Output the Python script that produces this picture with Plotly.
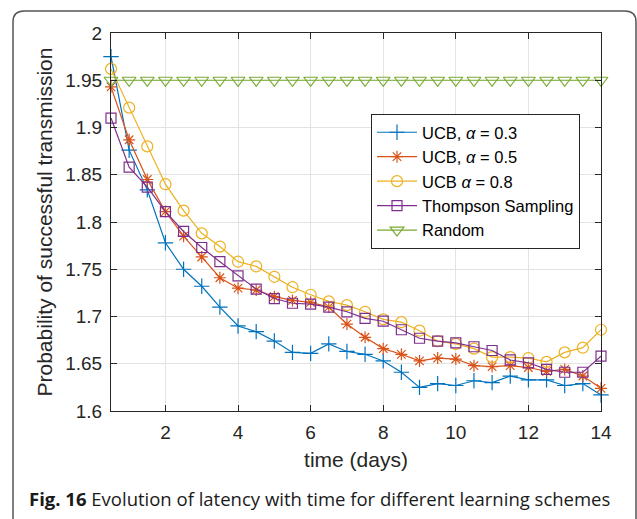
import plotly.graph_objects as go

# Time axis (days) and the probability curves for each scheme
days = [0.5, 1.0, 1.5, 2.0, 2.5, 3.0, 3.5, 4.0, 4.5, 5.0, 5.5, 6.0, 6.5, 7.0,
        7.5, 8.0, 8.5, 9.0, 9.5, 10.0, 10.5, 11.0, 11.5, 12.0, 12.5, 13.0, 13.5, 14.0]

ucb_03 = [1.975, 1.876, 1.834, 1.778, 1.750, 1.732, 1.710, 1.690, 1.684, 1.674,
          1.662, 1.661, 1.671, 1.663, 1.660, 1.653, 1.641, 1.625, 1.629, 1.627,
          1.632, 1.630, 1.637, 1.633, 1.633, 1.627, 1.629, 1.617]

ucb_05 = [1.943, 1.887, 1.845, 1.811, 1.785, 1.763, 1.741, 1.730, 1.728, 1.721,
          1.717, 1.715, 1.710, 1.692, 1.678, 1.666, 1.660, 1.653, 1.656, 1.655,
          1.648, 1.647, 1.648, 1.646, 1.642, 1.644, 1.637, 1.624]

ucb_08 = [1.962, 1.921, 1.880, 1.840, 1.812, 1.788, 1.774, 1.758, 1.753, 1.742,
          1.731, 1.723, 1.716, 1.712, 1.705, 1.697, 1.694, 1.685, 1.674, 1.671,
          1.666, 1.657, 1.657, 1.656, 1.652, 1.662, 1.667, 1.686]

thompson = [1.910, 1.858, 1.837, 1.811, 1.790, 1.773, 1.758, 1.743, 1.729, 1.719,
            1.714, 1.713, 1.710, 1.705, 1.698, 1.695, 1.686, 1.677, 1.674, 1.672,
            1.668, 1.664, 1.654, 1.651, 1.644, 1.641, 1.641, 1.658]

random_sel = [1.95] * len(days)

x_ticks = [2, 4, 6, 8, 10, 12, 14]
y_ticks = [1.6, 1.65, 1.7, 1.75, 1.8, 1.85, 1.9, 1.95, 2.0]
y_tick_text = ["1.6", "1.65", "1.7", "1.75", "1.8", "1.85", "1.9", "1.95", "2"]

W, H = 637, 519
ML, MR, MT, MB = 111, 36, 33, 108
PW, PH = W - ML - MR, H - MT - MB


def px_x(p):
    return (p - ML) / PW


def px_y(p):
    return 1 - (p - MT) / PH


FONT = "Liberation Sans, Arial, sans-serif"

series = [
    ("UCB, <i>α</i> = 0.3", ucb_03, "#0072BD", "cross-thin-open", 11),
    ("UCB, <i>α</i> = 0.5", ucb_05, "#D95319", "asterisk-open", 10),
    ("UCB <i>α</i> = 0.8", ucb_08, "#EDB120", "circle-open", 11),
    ("Thompson Sampling", thompson, "#7E2F8E", "square-open", 10),
    ("Random", random_sel, "#77AC30", "triangle-down-open", 12),
]

fig = go.Figure()
for name, vals, color, symbol, size in series:
    fig.add_trace(go.Scatter(
        x=days, y=vals, name=name, mode="lines+markers",
        line=dict(color=color, width=1.2),
        marker=dict(symbol=symbol, size=size, color=color,
                    line=dict(color=color, width=1.2)),
        cliponaxis=False,
    ))

axis_common = dict(
    showline=True, linecolor="#262626", linewidth=1, mirror="ticks",
    ticks="inside", ticklen=6, tickcolor="#262626", tickwidth=1,
    showgrid=True, gridcolor="#e3e3e3", gridwidth=1, zeroline=False,
    tickfont=dict(family=FONT, size=19, color="#262626"),
)

fig.update_layout(
    width=W, height=H,
    margin=dict(l=ML, r=MR, t=MT, b=MB),
    paper_bgcolor="white", plot_bgcolor="white",
    xaxis=dict(range=[0.5, 14], tickvals=x_ticks, ticklabelstandoff=4,
               **axis_common,
               title=dict(text="time (days)", standoff=10,
                          font=dict(family=FONT, size=21, color="#262626"))),
    yaxis=dict(range=[1.6, 2.0], tickvals=y_ticks, ticktext=y_tick_text,
               ticklabelstandoff=4, **axis_common,
               title=dict(text="Probability of successful transmission", standoff=6,
                          font=dict(family=FONT, size=21, color="#262626"))),
    legend=dict(
        x=px_x(371), y=px_y(114), xanchor="left", yanchor="top",
        bgcolor="white", bordercolor="#262626", borderwidth=1,
        font=dict(family=FONT, size=16.5, color="#000000"),
        tracegroupgap=0, itemwidth=40,
    ),
    showlegend=True,
)

# Caption below the axes
fig.add_annotation(
    text="<b>Fig. 16</b> Evolution of latency with time for different learning schemes",
    xref="paper", yref="paper", x=px_x(319), y=px_y(498),
    xanchor="center", yanchor="middle", showarrow=False,
    font=dict(family="Open Sans, sans-serif", size=18.5, color="#1a1a1a"),
)

# Rounded frame around the figure panel
x0, y0, x1, y1, r = px_x(13), px_y(11), px_x(636), px_y(540), 11
rx, ry = r / PW, r / PH
frame = (f"M {x0} {y1} L {x0} {y0 - ry} Q {x0} {y0} {x0 + rx} {y0} "
         f"L {x1 - rx} {y0} Q {x1} {y0} {x1} {y0 - ry} L {x1} {y1}")
fig.add_shape(type="path", path=frame, xref="paper", yref="paper",
              line=dict(color="#555555", width=1.5), layer="below")

fig.write_html("out.html")
